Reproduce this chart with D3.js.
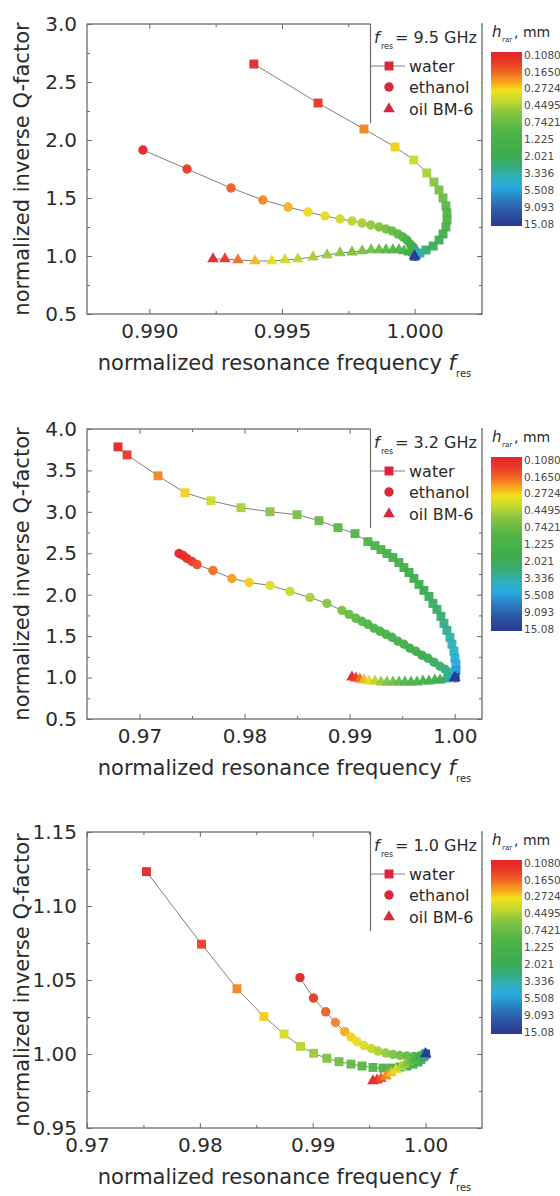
<!DOCTYPE html>
<html>
<head>
<meta charset="utf-8">
<script src="https://cdn.jsdelivr.net/npm/d3@7"></script>
<style>
  html, body { margin: 0; padding: 0; background: #fff; }
  svg { display: block; }
</style>
</head>
<body>
<svg id="fig" width="560" height="1196"></svg>
<script>
// ---- data: [normalized f_res, normalized inverse Q, layer thickness h (mm)] ----
const water95 = [
  [0.99394, 2.655, 0.108], [0.99636, 2.319, 0.14], [0.99809, 2.095, 0.22], [0.99926, 1.940, 0.30],
  [0.99997, 1.828, 0.40], [1.00046, 1.716, 0.50], [1.00073, 1.638, 0.60], [1.00092, 1.569, 0.70],
  [1.00107, 1.500, 0.80], [1.00118, 1.431, 0.90], [1.00122, 1.371, 1.00], [1.00122, 1.310, 1.15],
  [1.00118, 1.250, 1.30], [1.00107, 1.190, 1.50], [1.00092, 1.138, 1.70], [1.00070, 1.086, 2.00],
  [1.00043, 1.052, 2.40], [1.00020, 1.026, 3.00], [1.00005, 1.009, 4.00], [1.00000, 1.000, 8.00],
  [1.00000, 1.000, 15.08]
];
const ethanol95 = [
  [0.98976, 1.914, 0.108], [0.99142, 1.750, 0.14], [0.99308, 1.586, 0.18], [0.99428, 1.483, 0.22],
  [0.99523, 1.422, 0.27], [0.99598, 1.379, 0.31], [0.99662, 1.345, 0.35], [0.99719, 1.319, 0.40],
  [0.99764, 1.302, 0.45], [0.99802, 1.284, 0.50], [0.99835, 1.267, 0.56], [0.99866, 1.250, 0.62],
  [0.99892, 1.233, 0.70], [0.99915, 1.216, 0.80], [0.99937, 1.190, 0.90], [0.99956, 1.164, 1.00],
  [0.99971, 1.138, 1.20], [0.99983, 1.103, 1.45], [0.99994, 1.078, 1.80], [1.00001, 1.052, 2.30],
  [1.00005, 1.034, 3.00], [1.00005, 1.017, 4.00], [1.00000, 1.000, 8.00], [1.00000, 1.000, 15.08]
];
const oil95 = [
  [0.99240, 0.974, 0.108], [0.99285, 0.974, 0.14], [0.99334, 0.966, 0.20], [0.99398, 0.957, 0.27],
  [0.99462, 0.957, 0.35], [0.99511, 0.966, 0.40], [0.99560, 0.974, 0.45], [0.99617, 0.991, 0.50],
  [0.99670, 1.009, 0.55], [0.99719, 1.026, 0.60], [0.99764, 1.034, 0.65], [0.99802, 1.043, 0.70],
  [0.99836, 1.052, 0.75], [0.99866, 1.052, 0.80], [0.99892, 1.052, 0.90], [0.99918, 1.052, 1.00],
  [0.99941, 1.052, 1.10], [0.99960, 1.043, 1.30], [0.99979, 1.034, 1.60], [0.99994, 1.026, 2.00],
  [1.00001, 1.017, 2.80], [1.00005, 1.009, 4.00], [1.00000, 1.000, 7.00], [1.00000, 1.000, 15.08]
];

const water32 = [
  [0.96795, 3.784, 0.108], [0.96881, 3.687, 0.14], [0.97176, 3.435, 0.22], [0.97433, 3.230, 0.30],
  [0.97680, 3.134, 0.40], [0.97966, 3.050, 0.50], [0.98242, 3.002, 0.60], [0.98499, 2.966, 0.70],
  [0.98708, 2.894, 0.80], [0.98889, 2.809, 0.90], [0.99051, 2.737, 1.00], [0.99174, 2.641, 1.08],
  [0.99241, 2.593, 1.15], [0.99298, 2.545, 1.22], [0.99355, 2.497, 1.30], [0.99412, 2.449, 1.38],
  [0.99469, 2.388, 1.46], [0.99517, 2.328, 1.55], [0.99565, 2.268, 1.65], [0.99612, 2.196, 1.75],
  [0.99660, 2.124, 1.85], [0.99707, 2.052, 1.95], [0.99755, 1.979, 2.10], [0.99793, 1.895, 2.25],
  [0.99831, 1.823, 2.45], [0.99869, 1.739, 2.65], [0.99898, 1.655, 2.85], [0.99926, 1.570, 3.05],
  [0.99955, 1.486, 3.30], [0.99974, 1.402, 3.60], [0.99993, 1.318, 3.90], [1.00002, 1.234, 4.30],
  [1.00012, 1.162, 4.80], [1.00012, 1.089, 5.50], [1.00002, 1.029, 6.50], [1.00000, 1.000, 10.0],
  [1.00000, 1.000, 15.08]
];
const ethanol32 = [
  [0.97376, 2.497, 0.108], [0.97414, 2.473, 0.115], [0.97452, 2.437, 0.125], [0.97499, 2.401, 0.14],
  [0.97547, 2.364, 0.16], [0.97699, 2.292, 0.20], [0.97880, 2.196, 0.25], [0.98042, 2.148, 0.30],
  [0.98242, 2.112, 0.36], [0.98432, 2.040, 0.42], [0.98622, 1.967, 0.50], [0.98784, 1.895, 0.60],
  [0.98927, 1.811, 0.70], [0.98994, 1.763, 0.78], [0.99060, 1.715, 0.86], [0.99117, 1.679, 0.94],
  [0.99174, 1.643, 1.00], [0.99232, 1.595, 1.08], [0.99289, 1.558, 1.16], [0.99346, 1.522, 1.25],
  [0.99403, 1.486, 1.35], [0.99460, 1.438, 1.45], [0.99517, 1.402, 1.55], [0.99574, 1.354, 1.66],
  [0.99631, 1.318, 1.78], [0.99688, 1.270, 1.90], [0.99745, 1.234, 2.05], [0.99803, 1.186, 2.20],
  [0.99860, 1.137, 2.40], [0.99907, 1.101, 2.70], [0.99945, 1.065, 3.10], [0.99974, 1.041, 3.70],
  [0.99993, 1.017, 4.80], [1.00000, 1.000, 8.00], [1.00000, 1.000, 15.08]
];
const oil32 = [
  [0.99022, 1.005, 0.108], [0.99060, 0.993, 0.15], [0.99098, 0.981, 0.20], [0.99136, 0.969, 0.27],
  [0.99184, 0.957, 0.35], [0.99241, 0.957, 0.45], [0.99298, 0.945, 0.55], [0.99355, 0.945, 0.65],
  [0.99412, 0.945, 0.75], [0.99470, 0.945, 0.85], [0.99527, 0.945, 0.95], [0.99584, 0.945, 1.05],
  [0.99641, 0.945, 1.20], [0.99698, 0.957, 1.35], [0.99755, 0.957, 1.50], [0.99812, 0.969, 1.70],
  [0.99860, 0.969, 2.00], [0.99907, 0.981, 2.40], [0.99945, 0.993, 3.00], [0.99974, 0.993, 3.80],
  [0.99993, 1.005, 5.50], [1.00000, 1.000, 9.00], [1.00000, 1.000, 15.08]
];

const water10 = [
  [0.97527, 1.1232, 0.108], [0.98015, 1.0742, 0.15], [0.98329, 1.0441, 0.22], [0.98568, 1.0253, 0.30],
  [0.98746, 1.0135, 0.38], [0.98892, 1.0051, 0.46], [0.99008, 1.0005, 0.55], [0.99125, 0.9971, 0.65],
  [0.99233, 0.9948, 0.75], [0.99339, 0.9932, 0.85], [0.99437, 0.9919, 0.95], [0.99534, 0.9909, 1.05],
  [0.99623, 0.9905, 1.15], [0.99702, 0.9905, 1.30], [0.99773, 0.9912, 1.45], [0.99835, 0.9919, 1.60],
  [0.99889, 0.9932, 1.80], [0.99933, 0.9946, 2.10], [0.99960, 0.9963, 2.50], [0.99982, 0.9980, 3.20],
  [0.99995, 0.9993, 5.00], [1.00000, 1.0000, 15.08]
];
const ethanol10 = [
  [0.98887, 1.0516, 0.108], [0.99007, 1.0378, 0.14], [0.99115, 1.0285, 0.18], [0.99201, 1.0213, 0.22],
  [0.99283, 1.0151, 0.26], [0.99339, 1.0115, 0.30], [0.99392, 1.0084, 0.34], [0.99454, 1.0057, 0.38],
  [0.99520, 1.0037, 0.43], [0.99578, 1.0020, 0.48], [0.99647, 1.0007, 0.55], [0.99711, 0.9997, 0.63],
  [0.99773, 0.9990, 0.72], [0.99835, 0.9986, 0.85], [0.99897, 0.9983, 1.00], [0.99942, 0.9983, 1.30],
  [0.99977, 0.9986, 1.80], [0.99995, 0.9993, 3.00], [1.00000, 1.0000, 15.08]
];
const oil10 = [
  [0.99534, 0.9818, 0.108], [0.99570, 0.9824, 0.13], [0.99605, 0.9834, 0.17], [0.99650, 0.9851, 0.22],
  [0.99694, 0.9872, 0.28], [0.99738, 0.9892, 0.35], [0.99782, 0.9912, 0.45], [0.99818, 0.9929, 0.55],
  [0.99853, 0.9946, 0.70], [0.99889, 0.9959, 0.90], [0.99915, 0.9970, 1.10], [0.99942, 0.9980, 1.40],
  [0.99964, 0.9986, 1.80], [0.99982, 0.9993, 2.40], [0.99995, 0.9998, 3.50], [1.00000, 1.0000, 7.00],
  [1.00000, 1.0000, 15.08]
];

// ---- axes ----
const freqLabels = ["9.5", "3.2", "1.0"];
const xDomain95 = [0.98765, 1.00254], yDomain95 = [0.5, 3.0];
const xDomain32 = [0.965, 1.0026],    yDomain32 = [0.5, 4.0];
const xDomain10 = [0.97, 1.005],      yDomain10 = [0.95, 1.15];
const xMajor95 = [0.990, 0.995, 1.000], xMinor95 = [0.9925, 0.9975];
const xMajor32 = [0.97, 0.98, 0.99, 1.00], xMinor32 = [0.975, 0.985, 0.995];
const xMajor10 = [0.97, 0.98, 0.99, 1.00], xMinor10 = [0.975, 0.985, 0.995];
const yMajor95 = [0.5, 1.0, 1.5, 2.0, 2.5, 3.0], yMinor95 = [0.75, 1.25, 1.75, 2.25, 2.75];
const yMajor32 = [0.5, 1.0, 1.5, 2.0, 2.5, 3.0, 3.5, 4.0], yMinor32 = [0.75, 1.25, 1.75, 2.25, 2.75, 3.25, 3.75];
const yMajor10 = [0.95, 1.00, 1.05, 1.10, 1.15], yMinor10 = [0.975, 1.025, 1.075, 1.125];

// ---- legend / colour bar ----
const seriesNames = ["water", "ethanol", "oil BM-6"];
const cbLabels = ["0.1080", "0.1650", "0.2724", "0.4495", "0.7421", "1.225", "2.021", "3.336", "5.508", "9.093", "15.08"];
const hRange = [0.108, 15.08];
const stopOffsets = [0.00, 0.06, 0.12, 0.17, 0.22, 0.28, 0.35, 0.45, 0.58, 0.66, 0.72, 0.78, 0.85, 0.92, 1.00];
const stopColors = ["#e4252b", "#ea3a27", "#f16a22", "#f8a11c", "#f2df1c", "#c4da2d", "#86c440", "#50b548",
                    "#3dac4c", "#36ad7f", "#2fb0c0", "#29a8e0", "#2a7cc2", "#2c55a5", "#2b3990"];

// ---- drawing ----
const FONT = "'DejaVu Sans', 'Liberation Sans', Arial, sans-serif";
const TXT = "#2b2b2b", FRAME = "#6b6b6b";
const L = 87, R = 482;
const tops = [24, 429, 832], bottoms = [314, 719, 1128];

const panels = [
  { freq: freqLabels[0], xd: xDomain95, yd: yDomain95, xM: xMajor95, xm: xMinor95, yM: yMajor95, ym: yMinor95,
    xf: d3.format(".3f"), yf: d3.format(".1f"), series: [water95, ethanol95, oil95] },
  { freq: freqLabels[1], xd: xDomain32, yd: yDomain32, xM: xMajor32, xm: xMinor32, yM: yMajor32, ym: yMinor32,
    xf: d3.format(".2f"), yf: d3.format(".1f"), series: [water32, ethanol32, oil32] },
  { freq: freqLabels[2], xd: xDomain10, yd: yDomain10, xM: xMajor10, xm: xMinor10, yM: yMajor10, ym: yMinor10,
    xf: d3.format(".2f"), yf: d3.format(".2f"), series: [water10, ethanol10, oil10] }
];

const svg = d3.select("#fig").style("font-family", FONT);

const tOf = d3.scaleLog().domain(hRange).range([0, 1]).clamp(true);
const colorOf = d3.scaleLinear().domain(stopOffsets).range(stopColors).interpolate(d3.interpolateRgb);
const hColor = h => colorOf(tOf(h));

const grad = svg.append("defs").append("linearGradient")
  .attr("id", "cbGrad").attr("x1", 0).attr("y1", 0).attr("x2", 0).attr("y2", 1);
stopOffsets.forEach((o, i) => grad.append("stop").attr("offset", o).attr("stop-color", stopColors[i]));

const symbolTypes = [d3.symbolSquare, d3.symbolCircle, d3.symbolTriangle];
const symbolSizes = [80, 70, 58];
const noLabel = () => "";

panels.forEach((p, i) => {
  const top = tops[i], bottom = bottoms[i];
  const x = d3.scaleLinear().domain(p.xd).range([L, R]);
  const y = d3.scaleLinear().domain(p.yd).range([bottom, top]);
  const g = svg.append("g");

  // inward ticks on all four sides
  const addAxis = (gen, tr, vals, size, fmt) => {
    const a = g.append("g").attr("transform", tr)
      .call(gen.tickValues(vals).tickSize(size).tickPadding(10).tickFormat(fmt || noLabel));
    a.select(".domain").remove();
    a.selectAll(".tick line").attr("stroke", FRAME).attr("stroke-width", 1);
    a.selectAll("text").attr("fill", TXT).style("font-size", "20px").style("font-family", FONT);
    return a;
  };
  addAxis(d3.axisBottom(x), `translate(0,${bottom})`, p.xM, -5, p.xf);
  addAxis(d3.axisBottom(x), `translate(0,${bottom})`, p.xm, -3);
  addAxis(d3.axisTop(x), `translate(0,${top})`, p.xM, -5);
  addAxis(d3.axisTop(x), `translate(0,${top})`, p.xm, -3);
  addAxis(d3.axisLeft(y), `translate(${L},0)`, p.yM, -5, p.yf);
  addAxis(d3.axisLeft(y), `translate(${L},0)`, p.ym, -3);
  addAxis(d3.axisRight(y), `translate(${R},0)`, p.yM, -5);
  addAxis(d3.axisRight(y), `translate(${R},0)`, p.ym, -3);

  g.append("rect").attr("x", L).attr("y", top).attr("width", R - L).attr("height", bottom - top)
    .attr("fill", "none").attr("stroke", FRAME).attr("stroke-width", 1.3);

  // connecting lines, then coloured markers
  const line = d3.line().x(d => x(d[0])).y(d => y(d[1]));
  p.series.forEach(s => {
    g.append("path").datum(s).attr("d", line)
      .attr("fill", "none").attr("stroke", "#808080").attr("stroke-width", 1);
  });
  p.series.forEach((s, k) => {
    const sym = d3.symbol().type(symbolTypes[k]).size(symbolSizes[k]);
    g.append("g").selectAll("path").data(s).join("path")
      .attr("transform", d => `translate(${x(d[0])},${y(d[1])})`)
      .attr("d", sym)
      .attr("fill", d => hColor(d[2]))
      .attr("fill-opacity", 0.95);
  });

  // axis titles
  const xt = g.append("text").attr("x", (L + R) / 2).attr("y", bottom + 56)
    .attr("text-anchor", "middle").attr("fill", TXT).style("font-size", "21px");
  xt.append("tspan").text("normalized resonance frequency ");
  xt.append("tspan").style("font-style", "italic").text("f");
  xt.append("tspan").attr("dy", 7).style("font-size", "10px").text("res");

  g.append("text")
    .attr("transform", `translate(29,${(top + bottom) / 2}) rotate(-90)`)
    .attr("text-anchor", "middle").attr("fill", TXT).style("font-size", "21px")
    .text("normalized inverse Q-factor");

  // legend box
  const lg = g.append("g");
  lg.append("rect").attr("x", 370.5).attr("y", top - 2).attr("width", 110.5).attr("height", 102).attr("fill", "#fff");
  lg.append("line").attr("x1", 370.5).attr("x2", 370.5).attr("y1", top).attr("y2", top + 99)
    .attr("stroke", FRAME).attr("stroke-width", 1.2);
  const ft = lg.append("text").attr("x", 374).attr("y", top + 19).attr("fill", TXT).style("font-size", "16px");
  ft.append("tspan").style("font-style", "italic").text("f");
  ft.append("tspan").attr("x", 381).attr("dy", 6).style("font-size", "8px").text("res");
  ft.append("tspan").attr("x", 395).attr("dy", -6).text("= " + p.freq + " GHz");

  const rowY = [42, 63, 85];
  seriesNames.forEach((name, k) => {
    const cy = top + rowY[k];
    if (k === 0) {
      lg.append("line").attr("x1", 371).attr("x2", 405).attr("y1", cy).attr("y2", cy)
        .attr("stroke", "#808080").attr("stroke-width", 1);
    }
    lg.append("path").attr("transform", `translate(389,${cy})`)
      .attr("d", d3.symbol().type(symbolTypes[k]).size(symbolSizes[k])())
      .attr("fill", "#d9263a");
    lg.append("text").attr("x", 409).attr("y", cy).attr("dy", "0.36em")
      .attr("fill", TXT).style("font-size", "16px").text(name);
  });

  // colour bar
  const cb = g.append("g");
  const ct = cb.append("text").attr("x", 492).attr("y", top + 13).attr("fill", TXT).style("font-size", "15px");
  ct.append("tspan").style("font-style", "italic").text("h");
  ct.append("tspan").attr("x", 502).attr("dy", 5).style("font-size", "7px").text("rar");
  ct.append("tspan").attr("x", 514).attr("dy", -5).style("font-size", "14px").text(", mm");
  cb.append("rect").attr("x", 491).attr("y", top + 28).attr("width", 31).attr("height", 174)
    .attr("fill", "url(#cbGrad)");
  cb.selectAll("text.lvl").data(cbLabels).join("text").attr("class", "lvl")
    .attr("x", 524).attr("y", (d, k) => top + 31 + k * 16.9).attr("dy", "0.35em")
    .attr("fill", "#4a4a4a").style("font-size", "10.5px").text(d => d);
});
</script>
</body>
</html>
